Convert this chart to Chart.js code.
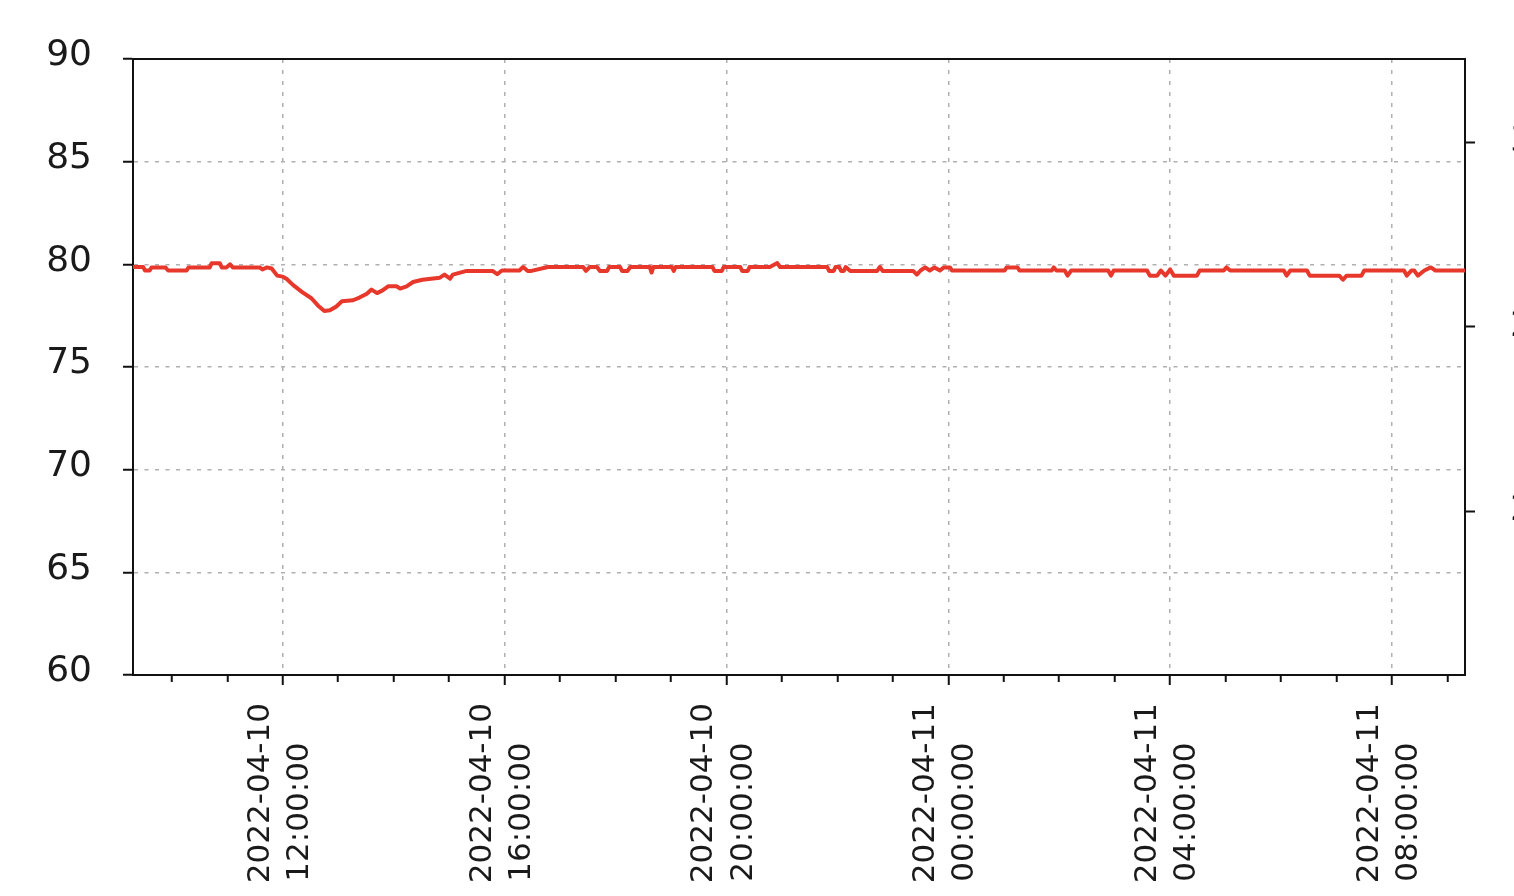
<!DOCTYPE html>
<html>
<head>
<meta charset="utf-8">
<script src="https://cdn.jsdelivr.net/npm/chart.js@4.4.1/dist/chart.umd.min.js"></script>
<style>
  html, body { margin: 0; padding: 0; background: #ffffff; overflow: hidden; }
  #wrap { position: relative; width: 1514px; height: 896px; }
</style>
</head>
<body>
<div id="wrap"><canvas id="c"></canvas></div>
<script>
// ---- data ----
const times = [
  "2022-04-10 09:18","2022-04-10 09:29","2022-04-10 09:31","2022-04-10 09:36","2022-04-10 09:38",
  "2022-04-10 09:53","2022-04-10 09:56","2022-04-10 10:16","2022-04-10 10:18","2022-04-10 10:41",
  "2022-04-10 10:43","2022-04-10 10:52","2022-04-10 10:54","2022-04-10 10:59","2022-04-10 11:03",
  "2022-04-10 11:06","2022-04-10 11:35","2022-04-10 11:38","2022-04-10 11:43","2022-04-10 11:48",
  "2022-04-10 11:54","2022-04-10 12:00","2022-04-10 12:04","2022-04-10 12:11","2022-04-10 12:21",
  "2022-04-10 12:31","2022-04-10 12:38","2022-04-10 12:45","2022-04-10 12:51","2022-04-10 12:58",
  "2022-04-10 13:04","2022-04-10 13:16","2022-04-10 13:23","2022-04-10 13:31","2022-04-10 13:36",
  "2022-04-10 13:42","2022-04-10 13:48","2022-04-10 13:54","2022-04-10 14:03","2022-04-10 14:07",
  "2022-04-10 14:14","2022-04-10 14:21","2022-04-10 14:31","2022-04-10 14:50","2022-04-10 14:55",
  "2022-04-10 15:01","2022-04-10 15:04","2022-04-10 15:19","2022-04-10 15:47","2022-04-10 15:52",
  "2022-04-10 15:57","2022-04-10 16:16","2022-04-10 16:20","2022-04-10 16:25","2022-04-10 16:29",
  "2022-04-10 16:47","2022-04-10 17:25","2022-04-10 17:28","2022-04-10 17:32","2022-04-10 17:40",
  "2022-04-10 17:43","2022-04-10 17:51","2022-04-10 17:53","2022-04-10 18:05","2022-04-10 18:07",
  "2022-04-10 18:13","2022-04-10 18:16","2022-04-10 18:37","2022-04-10 18:39","2022-04-10 18:41",
  "2022-04-10 19:01","2022-04-10 19:03","2022-04-10 19:05","2022-04-10 19:45","2022-04-10 19:47",
  "2022-04-10 19:55","2022-04-10 19:57","2022-04-10 20:15","2022-04-10 20:17","2022-04-10 20:23",
  "2022-04-10 20:25","2022-04-10 20:47","2022-04-10 20:55","2022-04-10 20:58","2022-04-10 21:49",
  "2022-04-10 21:51","2022-04-10 21:56","2022-04-10 21:58","2022-04-10 22:02","2022-04-10 22:04",
  "2022-04-10 22:07","2022-04-10 22:09","2022-04-10 22:14","2022-04-10 22:43","2022-04-10 22:46",
  "2022-04-10 22:49","2022-04-10 23:22","2022-04-10 23:26","2022-04-10 23:30","2022-04-10 23:35",
  "2022-04-10 23:40","2022-04-10 23:45","2022-04-10 23:51","2022-04-10 23:55","2022-04-11 00:02",
  "2022-04-11 00:04","2022-04-11 01:01","2022-04-11 01:03","2022-04-11 01:15","2022-04-11 01:17",
  "2022-04-11 01:52","2022-04-11 01:54","2022-04-11 01:57","2022-04-11 02:06","2022-04-11 02:09",
  "2022-04-11 02:13","2022-04-11 02:53","2022-04-11 02:56","2022-04-11 02:59","2022-04-11 03:35",
  "2022-04-11 03:38","2022-04-11 03:46","2022-04-11 03:50","2022-04-11 03:55","2022-04-11 04:00",
  "2022-04-11 04:04","2022-04-11 04:29","2022-04-11 04:32","2022-04-11 04:58","2022-04-11 05:01",
  "2022-04-11 05:05","2022-04-11 06:03","2022-04-11 06:06","2022-04-11 06:10","2022-04-11 06:28",
  "2022-04-11 06:31","2022-04-11 07:03","2022-04-11 07:07","2022-04-11 07:11","2022-04-11 07:27",
  "2022-04-11 07:30","2022-04-11 08:13","2022-04-11 08:16","2022-04-11 08:21","2022-04-11 08:24",
  "2022-04-11 08:28","2022-04-11 08:35","2022-04-11 08:42","2022-04-11 08:47","2022-04-11 09:19"
];
const values = [
  79.87,79.87,79.70,79.70,79.85,
  79.85,79.70,79.70,79.85,79.85,
  80.05,80.05,79.85,79.85,80.00,
  79.85,79.85,79.75,79.85,79.80,
  79.45,79.40,79.30,79.00,78.65,
  78.35,78.00,77.73,77.76,77.95,
  78.20,78.25,78.38,78.57,78.77,
  78.60,78.73,78.93,78.93,78.82,
  78.93,79.14,79.25,79.35,79.50,
  79.30,79.50,79.68,79.68,79.52,
  79.70,79.70,79.87,79.68,79.68,
  79.87,79.87,79.68,79.87,79.87,
  79.68,79.68,79.87,79.87,79.68,
  79.68,79.87,79.87,79.60,79.87,
  79.87,79.68,79.87,79.87,79.68,
  79.68,79.87,79.87,79.68,79.68,
  79.87,79.87,80.06,79.87,79.87,
  79.68,79.68,79.87,79.87,79.68,
  79.68,79.87,79.68,79.68,79.87,
  79.68,79.68,79.50,79.70,79.85,
  79.70,79.85,79.70,79.85,79.85,
  79.70,79.70,79.85,79.85,79.70,
  79.70,79.85,79.70,79.70,79.45,
  79.70,79.70,79.45,79.70,79.70,
  79.45,79.45,79.70,79.45,79.75,
  79.45,79.45,79.70,79.70,79.85,
  79.70,79.70,79.45,79.70,79.70,
  79.45,79.45,79.25,79.45,79.45,
  79.70,79.70,79.45,79.70,79.70,
  79.45,79.70,79.85,79.70,79.70
];
const xRange = ["2022-04-10 09:18", "2022-04-11 09:19"];
const yRange = [60, 90];
const yStep = 5;
const rightTicks = [20, 25, 30];
const rightRange = [15.556, 32.25];
const labelEveryHours = 4;

// ---- helpers ----
function toHours(s) {
  const [d, t] = s.split(' ');
  const day = Number(d.split('-')[2]);
  const [hh, mm] = t.split(':').map(Number);
  return (day - 10) * 24 + hh + mm / 60;
}
const pad2 = n => String(n).padStart(2, '0');
const xMin = toHours(xRange[0]);
const xMax = toHours(xRange[1]);
const points = times.map((t, i) => ({ x: toHours(t), y: values[i] }));
const isMajor = v => Math.abs(v % labelEveryHours) < 1e-9;

const AXIS = '#111111';
const GRID = '#b0b0b0';
const LABEL = '#1a1a1a';
const FONT = 'DejaVu Sans';

new Chart(document.getElementById('c'), {
  type: 'line',
  data: {
    datasets: [{
      data: points,
      borderColor: '#e8372b',
      borderWidth: 4,
      borderJoinStyle: 'round',
      borderCapStyle: 'round',
      pointRadius: 0,
      tension: 0,
      fill: false
    }]
  },
  options: {
    responsive: true,
    maintainAspectRatio: false,
    animation: false,
    devicePixelRatio: 1,
    layout: { padding: 0 },
    plugins: { legend: { display: false }, tooltip: { enabled: false } },
    scales: {
      x: {
        type: 'linear',
        position: 'bottom',
        min: xMin,
        max: xMax,
        afterBuildTicks: s => {
          const t = [];
          for (let h = Math.ceil(xMin); h <= xMax; h++) t.push({ value: h });
          s.ticks = t;
        },
        afterFit: s => { s.height = 221; },
        grid: {
          color: c => (c.tick && isMajor(c.tick.value)) ? GRID : 'rgba(0,0,0,0)',
          lineWidth: 1.5,
          tickLength: 10,
          tickColor: AXIS,
          tickWidth: 2,
          tickBorderDash: c => (c.tick && isMajor(c.tick.value)) ? [] : [6, 30]
        },
        border: { display: true, color: AXIS, width: 2, dash: [4, 7] },
        ticks: {
          autoSkip: false,
          minRotation: 90,
          maxRotation: 90,
          padding: 18,
          labelOffset: -22,
          color: LABEL,
          font: { family: FONT, size: 31, lineHeight: 1.26 },
          callback: v => {
            if (!isMajor(v)) return '';
            const day = 10 + Math.floor(v / 24);
            const hh = v % 24;
            return ['2022-04-' + pad2(day), pad2(hh) + ':00:00    '];
          }
        }
      },
      x2: {
        type: 'linear',
        position: 'top',
        min: xMin,
        max: xMax,
        afterFit: s => { s.height = 59; },
        grid: { display: false },
        ticks: { display: false },
        border: { display: true, color: AXIS, width: 2 }
      },
      y: {
        type: 'linear',
        position: 'left',
        min: yRange[0],
        max: yRange[1],
        afterFit: s => { s.width = 133; },
        grid: {
          color: GRID,
          lineWidth: 1.5,
          tickLength: 10,
          tickColor: AXIS,
          tickWidth: 2,
          tickBorderDash: []
        },
        border: { display: true, color: AXIS, width: 2, dash: [4, 6.5] },
        ticks: {
          stepSize: yStep,
          padding: 31,
          labelOffset: -3,
          color: LABEL,
          font: { family: FONT, size: 36 }
        }
      },
      y2: {
        type: 'linear',
        position: 'right',
        min: rightRange[0],
        max: rightRange[1],
        afterBuildTicks: s => { s.ticks = rightTicks.map(v => ({ value: v })); },
        afterFit: s => { s.width = 49; },
        grid: {
          drawOnChartArea: false,
          tickLength: 10,
          tickColor: AXIS,
          tickWidth: 2,
          tickBorderDash: []
        },
        border: { display: true, color: AXIS, width: 2 },
        ticks: {
          padding: 35,
          color: LABEL,
          font: { family: FONT, size: 36 }
        }
      }
    }
  }
});
</script>
</body>
</html>
